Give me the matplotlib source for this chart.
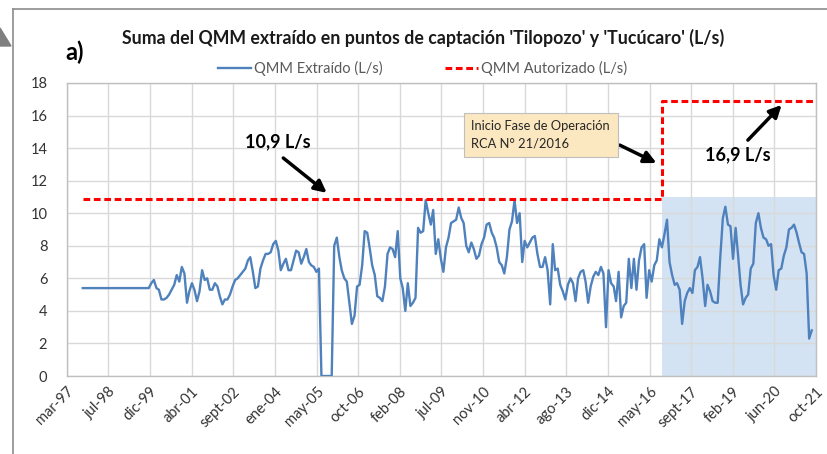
import matplotlib
matplotlib.use("Agg")
import matplotlib.pyplot as plt
import matplotlib.dates as mdates
from matplotlib.lines import Line2D
from matplotlib.patches import Polygon
import numpy as np
import pandas as pd

plt.rcParams['font.family'] = ['Lato', 'DejaVu Sans']

# Serie mensual QMM extraido (L/s), desde sept-1997
inicio = '1997-09-01'
qmm = [
    # 1997-09 .. 1999-11 (tramo plano)
    5.4, 5.4, 5.4, 5.4, 5.4, 5.4, 5.4, 5.4, 5.4, 5.4, 5.4, 5.4, 5.4, 5.4,
    5.4, 5.4, 5.4, 5.4, 5.4, 5.4, 5.4, 5.4, 5.4, 5.4, 5.4, 5.4, 5.4,
    5.7, 5.9, 5.4, 5.3, 4.7, 4.7, 4.8, 5.0, 5.3, 5.6, 6.2, 5.8, 6.7, 6.3,
    4.5, 5.2, 5.7, 5.3, 4.6, 5.2, 6.5, 5.9, 6.0, 5.3, 5.3, 5.7, 5.5, 4.9,
    4.4, 4.7, 4.7, 5.0, 5.5, 5.9, 6.0, 6.2, 6.4, 6.6, 7.1, 7.3, 6.4, 5.4, 5.5,
    6.6, 7.1, 7.5, 7.5, 7.6, 8.1, 8.3, 7.7, 6.5, 6.9, 7.2, 6.5, 6.5, 7.1,
    7.7, 7.6, 6.9, 7.3, 7.8, 7.0, 6.8, 6.7, 6.4, 6.6, 0.0, 0.0, 0.0, 0.0,
    0.0, 8.0, 8.5, 7.3, 6.5, 6.0, 5.8, 4.5, 3.2, 3.7, 5.5, 5.6, 6.8, 8.9, 8.8,
    7.8, 6.8, 6.2, 4.9, 4.8, 4.6, 5.5, 7.5, 7.9, 7.8, 7.3, 8.9, 6.0, 5.4,
    4.0, 5.7, 4.3, 4.5, 4.8, 9.1, 8.8, 8.9, 10.8, 10.0, 9.3, 10.2, 7.5, 8.4,
    7.2, 6.4, 7.9, 8.5, 9.4, 9.5, 9.6, 10.35, 9.7, 9.4, 8.0, 7.6, 8.2, 7.8,
    7.2, 7.4,
    8.1, 8.5, 9.3, 9.4, 8.8, 8.5, 7.9, 7.0, 6.8, 6.3, 7.3, 9.0, 9.5, 10.8,
    9.4, 10.0, 7.0, 8.3, 7.9, 8.2, 8.5, 8.6, 7.5, 6.7, 6.7, 7.3, 6.5, 4.4,
    8.1, 6.5, 6.6, 5.6, 5.2, 4.7, 5.6, 6.0, 5.7, 4.6, 6.0, 6.4, 6.5, 5.8, 4.5,
    5.5, 6.1, 6.4, 6.2, 6.7, 6.3, 3.0, 6.5, 5.7, 5.5, 4.6, 6.4, 3.6, 4.3,
    4.5, 7.2, 5.4, 7.2, 5.3, 7.1, 7.9, 8.1, 4.8, 6.5, 5.8, 6.8, 7.1, 8.4,
    7.9, 8.7, 9.6, 7.0, 6.2, 5.6, 5.7, 5.3, 3.2, 4.6, 5.1, 5.4, 5.1, 6.5, 6.7,
    7.3, 6.0, 4.3, 5.6, 5.2, 4.6, 4.5, 4.5, 7.3, 9.7, 10.4, 9.3, 9.2, 7.2,
    9.1, 7.5, 5.6, 4.4, 4.8, 5.0, 6.6, 6.9, 9.4, 10.0, 9.1, 8.5, 8.4, 8.0,
    8.1, 6.2, 5.3, 6.5, 6.6, 7.4, 7.9, 9.0, 9.1, 9.3, 8.8, 8.2, 7.6, 7.5,
    6.3, 2.3, 2.8,
]
fechas = pd.date_range(inicio, periods=len(qmm), freq='MS') + pd.Timedelta(days=14)

# QMM autorizado
aut_fechas = pd.to_datetime(['1997-09-15', '2016-09-16', '2016-09-16', '2021-09-01'])
aut_valores = [10.9, 10.9, 16.9, 16.9]

# zona sombreada (fase de operacion)
zona_ini = pd.Timestamp('2016-09-16')
zona_max = 11.0

xmin = pd.Timestamp('1997-03-07')
xmax = pd.Timestamp('2021-10-06')
etiquetas_x = ['mar-97', 'jul-98', 'dic-99', 'abr-01', 'sept-02', 'ene-04',
               'may-05', 'oct-06', 'feb-08', 'jul-09', 'nov-10', 'abr-12',
               'ago-13', 'dic-14', 'may-16', 'sept-17', 'feb-19', 'jun-20', 'oct-21']

fig = plt.figure(figsize=(8.28, 4.54), dpi=100)
ax = fig.add_axes([0.0806, 0.1718, 0.905, 0.6454])

ax.axvspan(zona_ini, xmax, ymin=0, ymax=zona_max / 18, color='#D4E3F3', zorder=0.3, lw=0)
l1, = ax.plot(fechas, qmm, color='#4F81BD', lw=1.7, zorder=3)
l2, = ax.plot(aut_fechas, aut_valores, color='#FF0000', lw=2.2, dashes=(2.2, 1.2), zorder=3)

ax.set_xlim(xmin, xmax)
ax.set_ylim(0, 18)
ax.set_yticks(np.arange(0, 19, 2))
ticks = np.linspace(mdates.date2num(xmin), mdates.date2num(xmax), len(etiquetas_x))
ax.set_xticks(ticks)
ax.set_xticklabels(etiquetas_x, rotation=45, ha='right', rotation_mode='anchor')
ax.tick_params(axis='both', length=0, labelsize=10.5, labelcolor='#333333')
ax.tick_params(axis='x', pad=6)
ax.tick_params(axis='y', pad=14)
ax.grid(True, color='#D9D9D9', lw=1)
ax.set_axisbelow(True)
for s in ax.spines.values():
    s.set_color('#BFBFBF')
    s.set_linewidth(1)

# textos
fig.text(0.511, 0.916, "Suma del QMM extraído en puntos de captación 'Tilopozo' y 'Tucúcaro' (L/s)",
         ha='center', va='center', fontsize=12.8, fontweight='bold', color='#1a1a1a')
fig.text(0.079, 0.884, 'a)', ha='left', va='center', fontsize=17, fontweight='bold')

fig.legend([l1, l2], ['QMM Extraído (L/s)', 'QMM Autorizado (L/s)'],
           loc='center', bbox_to_anchor=(0.51, 0.85), ncol=2, frameon=False,
           fontsize=10.5, handlelength=2.3, handletextpad=0.15, columnspacing=4.3,
           labelcolor='#595959')

flecha = dict(arrowstyle='-|>', color='black', lw=2.5, mutation_scale=18, shrinkA=0, shrinkB=0)
ax.text(0.282, 0.799, '10,9 L/s', transform=ax.transAxes, ha='center', va='center',
        fontsize=13, fontweight='bold')
ax.annotate('', xy=(0.347, 0.625), xytext=(0.289, 0.744), xycoords='axes fraction',
            textcoords='axes fraction', arrowprops=flecha)
ax.text(0.896, 0.754, '16,9 L/s', transform=ax.transAxes, ha='center', va='center',
        fontsize=13, fontweight='bold')
ax.annotate('', xy=(0.954, 0.925), xytext=(0.909, 0.805), xycoords='axes fraction',
            textcoords='axes fraction', arrowprops=flecha)
ax.text(0.540, 0.823, 'Inicio Fase de Operación\nRCA N° 21/2016', transform=ax.transAxes,
        ha='left', va='center', fontsize=9.3, color='#262626', linespacing=1.5,
        bbox=dict(boxstyle='square,pad=0.6', fc='#FCE8C0', ec='#BFBFBF', lw=0.8), zorder=5)
ax.annotate('', xy=(0.787, 0.727), xytext=(0.738, 0.788), xycoords='axes fraction',
            textcoords='axes fraction', arrowprops=flecha)

# marco exterior y recorte de flecha en la esquina
W, H = 828, 454
fig.add_artist(Line2D([13 / W, 13 / W], [0, 1 - 9 / H], color='#8C8C8C', lw=1.2))
fig.add_artist(Line2D([13 / W, 1], [1 - 9 / H, 1 - 9 / H], color='#8C8C8C', lw=1.2))
fig.add_artist(Polygon([(0, 1 - 28 / H), (11 / W, 1 - 46 / H), (0, 1 - 46 / H)],
                       closed=True, transform=fig.transFigure, color='#7F7F7F'))

fig.savefig('out.png', dpi=100)
